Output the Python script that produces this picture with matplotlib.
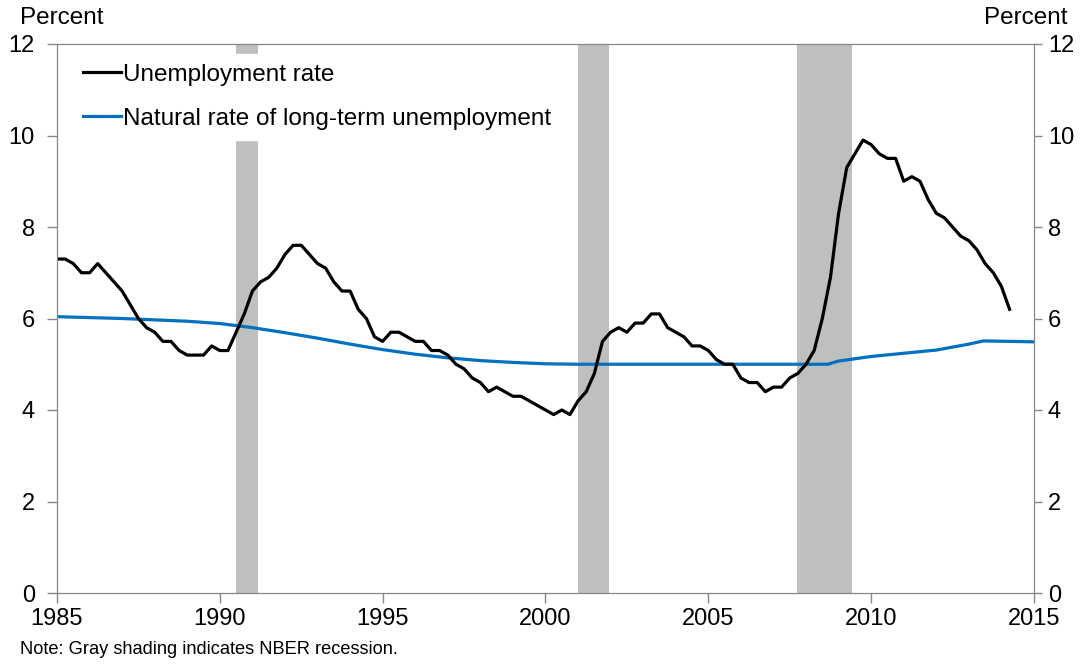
import numpy as np
import matplotlib
matplotlib.use('Agg')
import matplotlib.pyplot as plt

plt.rcParams['font.family'] = ['Liberation Sans', 'DejaVu Sans']

# quarterly unemployment rate, 1985Q1 - 2014Q2
unemp = [7.3, 7.3, 7.2, 7.0,
         7.0, 7.2, 7.0, 6.8,
         6.6, 6.3, 6.0, 5.8,
         5.7, 5.5, 5.5, 5.3,
         5.2, 5.2, 5.2, 5.4,
         5.3, 5.3, 5.7, 6.1,
         6.6, 6.8, 6.9, 7.1,
         7.4, 7.6, 7.6, 7.4,
         7.2, 7.1, 6.8, 6.6,
         6.6, 6.2, 6.0, 5.6,
         5.5, 5.7, 5.7, 5.6,
         5.5, 5.5, 5.3, 5.3,
         5.2, 5.0, 4.9, 4.7,
         4.6, 4.4, 4.5, 4.4,
         4.3, 4.3, 4.2, 4.1,
         4.0, 3.9, 4.0, 3.9,
         4.2, 4.4, 4.8, 5.5,
         5.7, 5.8, 5.7, 5.9,
         5.9, 6.1, 6.1, 5.8,
         5.7, 5.6, 5.4, 5.4,
         5.3, 5.1, 5.0, 5.0,
         4.7, 4.6, 4.6, 4.4,
         4.5, 4.5, 4.7, 4.8,
         5.0, 5.3, 6.0, 6.9,
         8.3, 9.3, 9.6, 9.9,
         9.8, 9.6, 9.5, 9.5,
         9.0, 9.1, 9.0, 8.6,
         8.3, 8.2, 8.0, 7.8,
         7.7, 7.5, 7.2, 7.0,
         6.7, 6.2]
unemp_t = 1985 + np.arange(len(unemp)) / 4.0

# natural rate of long-term unemployment
nat_t = [1985, 1986, 1987, 1988, 1989, 1990, 1991, 1992, 1993, 1994, 1995,
         1996, 1997, 1998, 1999, 2000, 2001, 2008.67, 2009, 2010, 2011,
         2012, 2013, 2013.45, 2015]
nat = [6.04, 6.02, 6.0, 5.97, 5.94, 5.89, 5.80, 5.69, 5.57, 5.44, 5.32,
       5.22, 5.14, 5.08, 5.04, 5.01, 5.0, 5.0, 5.07, 5.17, 5.24,
       5.31, 5.44, 5.51, 5.49]

# NBER recessions
rec_start = [1990.5, 2001.0, 2007.72]
rec_end = [1991.18, 2001.95, 2009.42]

fs = 17
fs_big = 17.5
gray = '#868686'

fig = plt.figure(figsize=(10.82, 6.65), dpi=100)
ax = fig.add_axes([57/1082, 1-593/665, (1034-57)/1082, (593-44)/665])

for s, e in zip(rec_start, rec_end):
    ax.axvspan(s, e, color='#bfbfbf', lw=0, zorder=0)

ax.plot(unemp_t, unemp, color='black', lw=2.3, label='Unemployment rate', zorder=3)
ax.plot(nat_t, nat, color='#0070c0', lw=2.3, label='Natural rate of long-term unemployment', zorder=2)

ax.set_xlim(1985, 2015)
ax.set_ylim(0, 12)
ax.set_xticks(range(1985, 2016, 5))
ax.set_yticks(range(0, 13, 2))
for sp in ax.spines.values():
    sp.set_color(gray)
ax.tick_params(axis='both', color=gray, length=7, width=1, labelsize=fs, direction='out')
ax.tick_params(axis='y', pad=9)
ax.tick_params(axis='x', pad=4)

# right-hand axis with the same scale
ax2 = ax.twinx()
ax2.set_ylim(0, 12)
ax2.set_yticks(range(0, 13, 2))
for sp in ax2.spines.values():
    sp.set_color(gray)
ax2.tick_params(axis='y', color=gray, length=6, width=1, labelsize=fs, direction='out', pad=4)

leg = ax.legend(loc='upper left', bbox_to_anchor=(0.017, 0.982), fontsize=fs_big,
                frameon=True, facecolor='white', edgecolor='white', framealpha=1,
                handlelength=1.53, handletextpad=0.12, labelspacing=0.92,
                borderaxespad=0, fancybox=False)
leg.set_zorder(5)

fig.text(20/1082, 1-18/665, 'Percent', fontsize=fs_big, ha='left', va='center')
fig.text(1068/1082, 1-18/665, 'Percent', fontsize=fs_big, ha='right', va='center')
fig.text(20/1082, 1-650/665, 'Note: Gray shading indicates NBER recession.',
         fontsize=13.15, ha='left', va='center')

fig.savefig('out.png', dpi=100)
